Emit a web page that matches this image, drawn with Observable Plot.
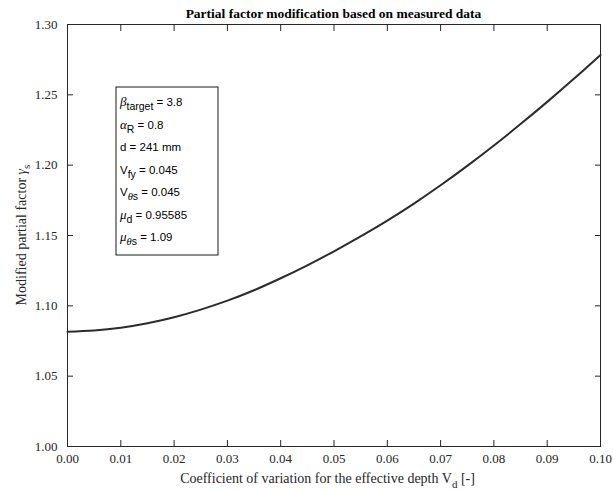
<!DOCTYPE html>
<html>
<head>
<meta charset="utf-8">
<script src="https://cdn.jsdelivr.net/npm/d3@7"></script>
<script src="https://cdn.jsdelivr.net/npm/@observablehq/plot@0.6"></script>
<style>
  html, body { margin: 0; padding: 0; background: #fff; }
  #chart { position: relative; width: 613px; height: 490px; }
</style>
</head>
<body>
<div id="chart"></div>
<script>
// ---- data ----
const vd = [0.000, 0.005, 0.010, 0.015, 0.020, 0.025, 0.030, 0.035, 0.040, 0.045, 0.050,
            0.055, 0.060, 0.065, 0.070, 0.075, 0.080, 0.085, 0.090, 0.095, 0.100];
const gammaS = [1.0816, 1.0824, 1.0844, 1.0876, 1.0919, 1.0973, 1.1037, 1.1111, 1.1196, 1.1288, 1.1388,
                1.1494, 1.1606, 1.1727, 1.1857, 1.1995, 1.2140, 1.2292, 1.2450, 1.2614, 1.2784];
const xTicks = [0.00, 0.01, 0.02, 0.03, 0.04, 0.05, 0.06, 0.07, 0.08, 0.09, 0.10];
const yTicks = [1.00, 1.05, 1.10, 1.15, 1.20, 1.25, 1.30];
const legendSym = ["β", "α", "d", "V", "V", "μ", "μ"];
const legendSub = ["target", "R", "", "fy", "θs", "d", "θs"];
const legendVal = ["3.8", "0.8", "241 mm", "0.045", "0.045", "0.95585", "1.09"];
const titleText = "Partial factor modification based on measured data";
const xLabelMain = "Coefficient of variation for the effective depth V";
const xLabelSub = "d";
const xLabelTail = " [-]";
const yLabelMain = "Modified partial factor ";
const yLabelSym = "γ";
const yLabelSub = "s";

const data = vd.map((v, i) => ({v, g: gammaS[i]}));

// ---- layout ----
const W = 613, H = 490;
const mL = 67, mR = 13, mT = 24, mB = 44;
const pW = W - mL - mR, pH = H - mT - mB;
const ink = "#262626";
const serif = "'Liberation Serif', 'Times New Roman', serif";
const sans = "'Liberation Sans', Arial, Helvetica, sans-serif";
const tickLen = 6;   // inward ticks: negative tickSize

const chart = Plot.plot({
  width: W, height: H,
  marginLeft: mL, marginRight: mR, marginTop: mT, marginBottom: mB,
  x: {domain: [0, 0.1]},
  y: {domain: [1, 1.3]},
  style: {fontFamily: serif, fontSize: "13px", color: ink, background: "#fff", overflow: "visible"},
  marks: [
    Plot.axisX(xTicks, {anchor: "bottom", tickSize: -tickLen, tickPadding: 7 + tickLen, tickFormat: d => d.toFixed(2),
                        label: null, fontSize: 13, fill: ink, stroke: ink, strokeWidth: 1}),
    Plot.axisX(xTicks, {anchor: "top", tickSize: -tickLen, tickFormat: () => "", label: null, stroke: ink, strokeWidth: 1}),
    Plot.axisY(yTicks, {anchor: "left", tickSize: -tickLen, tickPadding: 10 + tickLen, tickFormat: d => d.toFixed(2),
                        label: null, fontSize: 13, fill: ink, stroke: ink, strokeWidth: 1}),
    Plot.axisY(yTicks, {anchor: "right", tickSize: -tickLen, tickFormat: () => "", label: null, stroke: ink, strokeWidth: 1}),
    Plot.frame({stroke: ink, strokeWidth: 1}),
    Plot.line(data, {x: "v", y: "g", stroke: "#2b2b2b", strokeWidth: 2, curve: "monotone-x"})
  ]
});
document.getElementById("chart").appendChild(chart);

const svg = d3.select(chart);

// title
svg.append("text")
  .attr("x", mL + pW / 2).attr("y", 18)
  .attr("text-anchor", "middle")
  .attr("font-family", serif).attr("font-weight", "bold").attr("font-size", 13.5)
  .attr("fill", "#000")
  .text(titleText);

// x label
const xl = svg.append("text")
  .attr("x", mL + pW / 2 - 6).attr("y", 483)
  .attr("text-anchor", "middle")
  .attr("font-family", serif).attr("font-size", 14).attr("fill", ink);
xl.append("tspan").text(xLabelMain);
xl.append("tspan").attr("dy", 5).attr("font-size", 11).text(xLabelSub);
xl.append("tspan").attr("dy", -5).text(xLabelTail);

// y label
const yl = svg.append("text")
  .attr("transform", `translate(26,${mT + pH / 2}) rotate(-90)`)
  .attr("text-anchor", "middle")
  .attr("font-family", serif).attr("font-size", 14).attr("fill", ink);
yl.append("tspan").text(yLabelMain);
yl.append("tspan").attr("font-style", "italic").text(yLabelSym);
yl.append("tspan").attr("dy", 4).attr("font-size", 11).text(yLabelSub);

// annotation box
const bx = 116, by = 87, bw = 102, bh = 168;
const g = svg.append("g").attr("text-anchor", "start");
g.append("rect")
  .attr("x", bx).attr("y", by).attr("width", bw).attr("height", bh)
  .attr("fill", "#fff").attr("stroke", "#000").attr("stroke-width", 0.9);
const greek = /[α-ω]/;
legendSym.forEach((s, i) => {
  const t = g.append("text")
    .attr("x", bx + 4).attr("y", by + 19 + i * 22.5)
    .attr("text-anchor", "start")
    .attr("font-family", sans).attr("font-size", 11.5).attr("fill", "#000");
  t.append("tspan")
    .attr("font-family", greek.test(s) ? serif : sans)
    .attr("font-style", greek.test(s) ? "italic" : null)
    .attr("font-size", greek.test(s) ? 13 : 11.5)
    .text(s);
  const sub = legendSub[i];
  let shifted = false;
  if (sub) {
    shifted = true;
    [...sub].forEach((c, j) => {
      const ts = t.append("tspan").attr("font-size", 10.5)
        .attr("font-family", greek.test(c) ? serif : sans)
        .attr("font-style", greek.test(c) ? "italic" : null)
        .text(c);
      if (j === 0) ts.attr("dy", 4);
    });
  }
  const tv = t.append("tspan").text(" = " + legendVal[i]);
  if (shifted) tv.attr("dy", -4);
});
</script>
</body>
</html>
